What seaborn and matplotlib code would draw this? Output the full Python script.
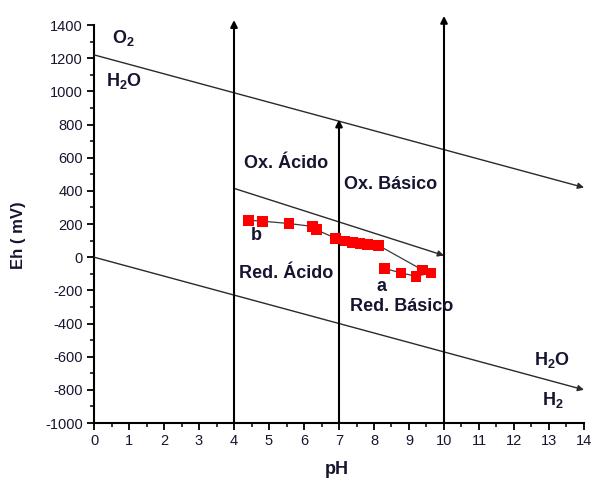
import matplotlib
matplotlib.use("Agg")
import matplotlib.pyplot as plt
import seaborn as sns
import pandas as pd
import numpy as np
from matplotlib.ticker import MultipleLocator

# ---- data ----
ph_values = [4.41, 4.81, 5.57, 6.25, 6.36, 6.91, 7.17, 7.39, 7.60, 7.82, 8.12,
             9.39, 9.63, 9.20, 8.77, 8.31]
eh_values = [223, 217, 203, 185, 165, 113, 98, 88, 82, 78, 72,
             -78, -95, -115, -95, -68]

# reference lines (pH start, Eh start, pH end, Eh end)
diag_lines = [
    (0, 1220, 14, 420),    # O2 / H2O
    (0, 0, 14, -800),      # H2O / H2
    (4, 415, 10, 10),      # Ox / Red boundary
]
vert_lines = [
    (4, -1000, 4, 1430),
    (7, -1000, 7, 830),
    (10, -1000, 10, 1455),
]

labels = [
    ("O$_2$", 0.83, 1320),
    ("H$_2$O", 0.86, 1060),
    ("Ox. Ácido", 5.5, 567),
    ("Ox. Básico", 8.46, 440),
    ("b", 4.65, 133),
    ("Red. Ácido", 5.48, -97),
    ("a", 8.22, -179),
    ("Red. Básico", 8.8, -296),
    ("H$_2$O", 13.09, -620),
    ("H$_2$", 13.1, -860),
]

x_ticks = list(range(0, 15))
y_ticks = list(range(-1000, 1401, 200))

df = pd.DataFrame({"pH": ph_values, "Eh": eh_values})

sns.set_theme(style="ticks")
plt.rcParams["font.family"] = ["Liberation Sans", "DejaVu Sans"]
plt.rcParams["mathtext.default"] = "regular"
plt.rcParams["axes.unicode_minus"] = False

fig = plt.figure(figsize=(5.95, 4.82), dpi=100)
ax = fig.add_axes([0.158, 0.1224, 0.8235, 0.8257])

txt_color = "#151530"

for x0, y0, x1, y1 in diag_lines:
    ax.annotate("", xy=(x1, y1), xytext=(x0, y0),
                arrowprops=dict(arrowstyle="-|>", color="#2a2a2a", lw=1.0,
                                mutation_scale=9, shrinkA=0, shrinkB=0),
                annotation_clip=False)
for x0, y0, x1, y1 in vert_lines:
    ax.annotate("", xy=(x1, y1), xytext=(x0, y0),
                arrowprops=dict(arrowstyle="-|>", color="black", lw=1.5,
                                mutation_scale=10, shrinkA=0, shrinkB=0),
                annotation_clip=False)

sns.lineplot(data=df, x="pH", y="Eh", sort=False, estimator=None,
             color="#3a3a3a", lw=0.9, ax=ax, zorder=3)
sns.scatterplot(data=df, x="pH", y="Eh", marker="s", color="#ff0000",
                edgecolor="none", s=60, ax=ax, zorder=4)

for t, x, y in labels:
    ax.text(x, y, t, ha="center", va="center", fontsize=13,
            fontweight="bold", color=txt_color)

ax.set_xlim(0, 14)
ax.set_ylim(-1000, 1400)
ax.set_xticks(x_ticks)
ax.set_yticks(y_ticks)
ax.xaxis.set_minor_locator(MultipleLocator(0.5))
ax.yaxis.set_minor_locator(MultipleLocator(100))
ax.tick_params(which="major", direction="out", length=5, width=1.3,
               labelsize=10.5, labelcolor=txt_color, color="black", pad=3)
ax.tick_params(which="minor", direction="out", length=3, width=1.1,
               color="black")
sns.despine(ax=ax)
for s in ("left", "bottom"):
    ax.spines[s].set_linewidth(1.5)
    ax.spines[s].set_color("black")
ax.set_xlabel("")
ax.set_ylabel("")

fig.text(18 / 595, 1 - 235 / 482, "Eh ( mV)", rotation=90, ha="center",
         va="center", fontsize=12, fontweight="bold", color=txt_color)
fig.text(337 / 595, 1 - 470 / 482, "pH", ha="center", va="center",
         fontsize=13, fontweight="bold", color=txt_color)

fig.savefig("out.png", dpi=100, facecolor="white")
